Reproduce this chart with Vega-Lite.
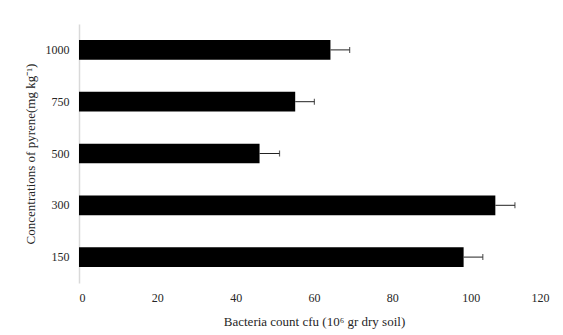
{
  "$schema": "https://vega.github.io/schema/vega-lite/v6.json",
  "autosize": "none",
  "width": 470,
  "height": 259,
  "padding": {"left": 79, "top": 24, "right": 14, "bottom": 52},
  "background": "white",
  "config": {
    "view": {"stroke": null},
    "font": "Liberation Serif",
    "axis": {"labelFont": "Liberation Serif", "titleFont": "Liberation Serif", "labelColor": "#262626", "titleColor": "#262626", "titleFontWeight": "normal", "grid": false, "ticks": false}
  },
  "data": {
    "values": [
      {"conc": "1000", "count": 64.2, "hi": 69.1},
      {"conc": "750", "count": 55.2, "hi": 60.1},
      {"conc": "500", "count": 46.1, "hi": 51.2},
      {"conc": "300", "count": 106.3, "hi": 111.3},
      {"conc": "150", "count": 98.2, "hi": 103.1}
    ]
  },
  "encoding": {
    "y": {
      "field": "conc", "type": "nominal", "sort": null,
      "scale": {"paddingInner": 0.62, "paddingOuter": 0.31},
      "axis": {"title": "Concentrations of pyrene(mg kg⁻¹)", "labelFontSize": 12, "titleFontSize": 13, "labelPadding": 10, "titlePadding": 8, "domainColor": "#d9d9d9", "domainWidth": 1.5}
    }
  },
  "layer": [
    {
      "mark": {"type": "bar", "color": "black"},
      "encoding": {
        "x": {"field": "count", "type": "quantitative", "scale": {"domain": [0, 120]},
          "axis": {"title": "Bacteria count cfu (10⁶ gr dry soil)", "values": [0, 20, 40, 60, 80, 100, 120], "labelFontSize": 12, "titleFontSize": 13, "labelPadding": 9, "titlePadding": 12, "domain": false}}
      }
    },
    {
      "mark": {"type": "rule", "color": "#222222", "strokeWidth": 1},
      "encoding": {"x": {"field": "count", "type": "quantitative"}, "x2": {"field": "hi"}}
    },
    {
      "mark": {"type": "tick", "orient": "vertical", "color": "#222222", "thickness": 1.2, "size": 6},
      "encoding": {"x": {"field": "hi", "type": "quantitative"}}
    }
  ]
}
